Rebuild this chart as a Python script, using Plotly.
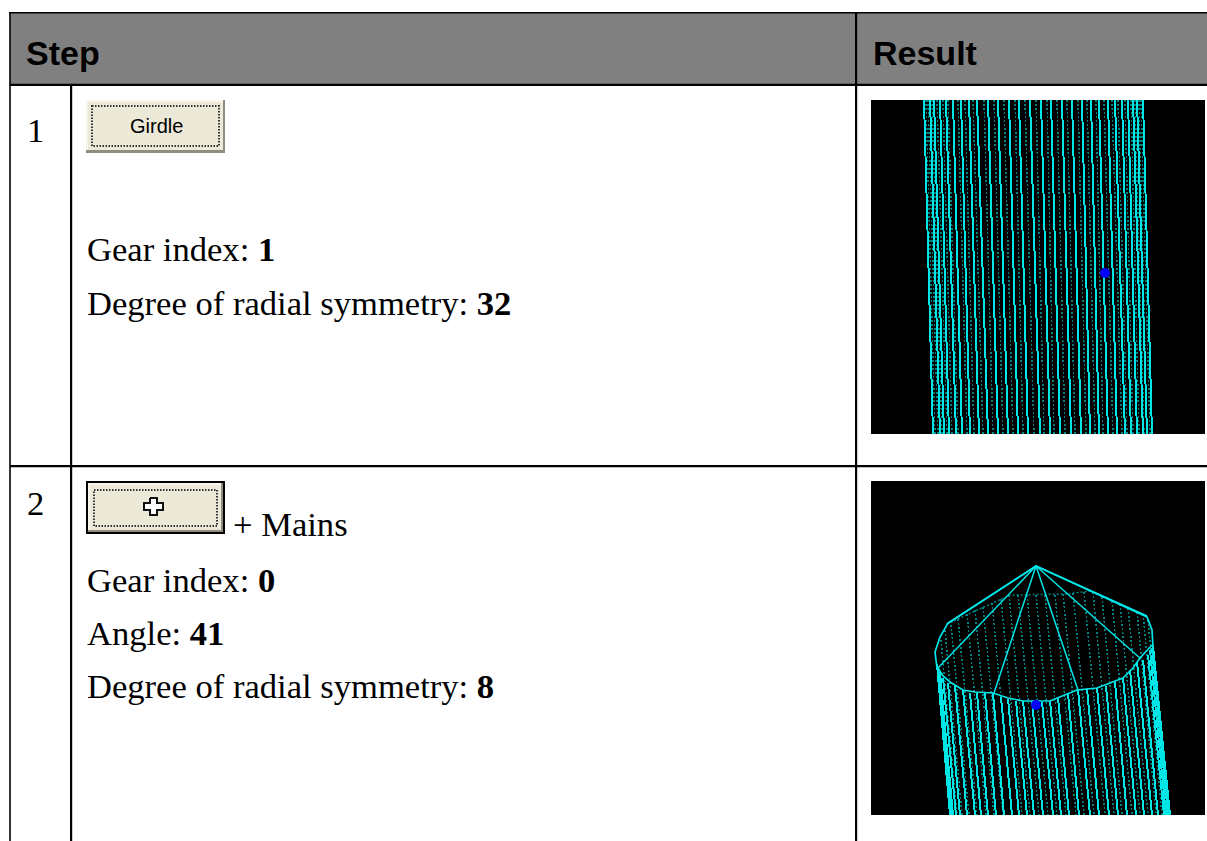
import plotly.graph_objects as go

# ---- text
header_labels = ["Step", "Result"]
step_numbers = ["1", "2"]
step1_lines = ["Gear index: <b>1</b>", "Degree of radial symmetry: <b>32</b>"]
step2_lines = ["+ Mains", "Gear index: <b>0</b>", "Angle: <b>41</b>", "Degree of radial symmetry: <b>8</b>"]
button_label = "Girdle"

# ---- wireframe 1 (read at the top and bottom of the black picture)
w1_y = [100, 434]
w1_bright_top = [924, 930, 934, 940, 946, 953, 961, 969, 977, 988, 998, 1009, 1019, 1030, 1041, 1051, 1062,
                 1072, 1082, 1091, 1099, 1108, 1115, 1122, 1128, 1133, 1137, 1143]
w1_bright_bot = [933, 940, 944, 949, 956, 962, 970, 979, 988, 998, 1008, 1018, 1028, 1040, 1050, 1060, 1071,
                 1081, 1090, 1099, 1108, 1117, 1125, 1131, 1137, 1143, 1147, 1152]
w1_dot_top = [926, 928, 932, 937, 943, 948, 958, 965, 973, 984, 994, 1004, 1015, 1025, 1036, 1047, 1057, 1067,
              1078, 1087, 1096, 1104, 1112, 1118, 1125, 1131, 1135, 1139, 1141]
w1_dot_bot = [935, 938, 942, 947, 952, 958, 967, 974, 983, 993, 1003, 1013, 1023, 1034, 1044, 1054, 1065, 1075,
              1086, 1095, 1103, 1113, 1122, 1127, 1133, 1139, 1144, 1147, 1150]
w1_dot_marker = ([1105], [273])

# ---- wireframe 2
w2_bottom = 815
w2_bright_x0 = [943, 948, 955, 963, 970, 977, 985, 993, 1001, 1008, 1016, 1023, 1032, 1042, 1050, 1058, 1068, 1078,
                1087, 1097, 1106, 1115, 1123, 1130, 1137, 1143, 1148]
w2_bright_y0 = [678, 683, 686, 690, 693, 693, 693, 693, 697, 699, 701, 701, 701, 702, 701, 698, 693, 690, 689, 688,
                686, 682, 678, 670, 662, 660, 655]
w2_bright_x1 = [956, 960, 967, 975, 981, 988, 996, 1004, 1012, 1019, 1027, 1034, 1043, 1053, 1061, 1069, 1079, 1090,
                1099, 1109, 1118, 1127, 1136, 1144, 1152, 1158, 1164]
w2_edge_x0 = [937, 938, 940, 1150, 1152, 1153]
w2_edge_y0 = [664, 668, 672, 650, 648, 646]
w2_edge_x1 = [950, 951, 953, 1166, 1168, 1170]
w2_dot_x0 = [958, 967, 975, 983, 992, 1001, 1009, 1018, 1027, 1036, 1045, 1055, 1063, 1073, 1084, 1093, 1102, 1112,
             1120, 1128, 1137, 1143, 1148]
w2_dot_y0 = [619, 614, 610, 607, 603, 599, 595, 595, 595, 595, 595, 595, 594, 593, 592, 592, 597, 601, 604, 608,
             612, 614, 620]
w2_dot_x1 = [977, 986, 994, 1003, 1012, 1022, 1030, 1039, 1048, 1057, 1066, 1076, 1084, 1094, 1105, 1114, 1122, 1132,
             1140, 1148, 1156, 1162, 1166]
w2_extra_dot_x0 = [941, 945, 951]
w2_extra_dot_y0 = [640, 630, 625]
w2_extra_dot_x1 = [957, 962, 969]
w2_curve_x = [938, 943, 950, 963, 975, 993, 1008, 1023, 1050, 1063, 1077, 1097, 1108, 1123, 1133, 1140, 1152]
w2_curve_y = [668, 676, 682, 690, 692, 693, 698, 701, 701, 696, 690, 688, 684, 678, 668, 658, 645]
w2_outline_x = [937, 935, 940, 948, 1036, 1147, 1152, 1153, 1153]
w2_outline_y = [668, 652, 637, 623, 566, 617, 630, 640, 647]
w2_back_x = [947, 1010, 1067, 1090, 1147]
w2_back_y = [624, 595, 594, 591, 616]
w2_apex = (1036, 566)
w2_spoke_x = [938, 994, 1078, 1141, 947, 1147]
w2_spoke_y = [668, 693, 690, 659, 624, 616]
w2_dot_marker = ([1036], [705])

# ---- small plus glyph on the second button
plus_x = [150, 157, 157, 163, 163, 157, 157, 150, 150, 144, 144, 150, 150]
plus_y = [498, 498, 503, 503, 510, 510, 515, 515, 510, 510, 503, 503, 498]


def segments(x0, y0, x1, y1):
    xs, ys = [], []
    for a, b, c, d in zip(x0, y0, x1, y1):
        xs += [a, c, None]
        ys += [b, d, None]
    return xs, ys


BRIGHT = "#00e6e6"
DIM = "#008080"
fig = go.Figure()


def lines(x, y, color, width=1.5, dash="solid"):
    fig.add_trace(go.Scatter(x=x, y=y, mode="lines", hoverinfo="skip",
                             line=dict(color=color, width=width, dash=dash)))


# wireframe rasters (the first four traces are drawn aliased, as in the source bitmap)
lines(*segments(w1_dot_top, [w1_y[0]] * len(w1_dot_top), w1_dot_bot, [w1_y[1]] * len(w1_dot_bot)), DIM, 1.5, "2px,2px")
lines(*segments(w1_bright_top, [w1_y[0]] * len(w1_bright_top), w1_bright_bot, [w1_y[1]] * len(w1_bright_bot)), BRIGHT, 2)
lines(*segments(w2_dot_x0 + w2_extra_dot_x0, w2_dot_y0 + w2_extra_dot_y0, w2_dot_x1 + w2_extra_dot_x1,
                [w2_bottom] * (len(w2_dot_x1) + len(w2_extra_dot_x1))), DIM, 1.5, "2px,2px")
lines(*segments(w2_bright_x0 + w2_edge_x0, w2_bright_y0 + w2_edge_y0, w2_bright_x1 + w2_edge_x1,
                [w2_bottom] * (len(w2_bright_x1) + len(w2_edge_x1))), BRIGHT, 2)

lines(w2_back_x, w2_back_y, DIM, 1.5, "2px,2px")
lines(w2_outline_x, w2_outline_y, BRIGHT, 1.7)
lines(w2_curve_x, w2_curve_y, BRIGHT, 1.7)
lines(*segments([w2_apex[0]] * len(w2_spoke_x), [w2_apex[1]] * len(w2_spoke_y), w2_spoke_x, w2_spoke_y), BRIGHT, 1.5)

for mx, my in (w1_dot_marker, w2_dot_marker):
    fig.add_trace(go.Scatter(x=mx, y=my, mode="markers", hoverinfo="skip",
                             marker=dict(color="#0000ff", size=10, line=dict(width=0))))
fig.add_trace(go.Scatter(x=plus_x, y=plus_y, mode="lines", fill="toself", fillcolor="#ffffff", hoverinfo="skip",
                         line=dict(color="#111111", width=2)))


def rect(x0, y0, x1, y1, fill, line=None, width=0, dash="solid", layer="below"):
    fig.add_shape(type="rect", x0=x0, y0=y0, x1=x1, y1=y1, fillcolor=fill, layer=layer,
                  line=dict(color=line or fill, width=width, dash=dash))


# table
rect(10, 13, 1207, 85, "#808080")
rect(9, 12, 1207, 13.4, "#000000")
rect(9.2, 12, 10.8, 841, "#000000")
rect(10, 83.7, 1207, 86, "#000000")
rect(10, 465, 1207, 467.2, "#000000")
rect(70, 85, 72.2, 841, "#000000")
rect(855, 12, 857.2, 841, "#000000")
# pictures
rect(871, 100, 1205, 434, "#000000")
rect(871, 481, 1205, 815, "#000000")
# button 1
rect(86, 100, 225, 153, "#8f8d80")
rect(86, 100, 223, 150, "#f7f5ee")
rect(88, 102, 223, 150, "#ece9d8")
rect(92, 106, 219, 146, "rgba(0,0,0,0)", "#333333", 2, "1.5px,1.5px")
# button 2
rect(86, 481, 225, 534, "#000000")
rect(88, 483, 223, 532, "#8f8d80")
rect(88, 483, 221, 530, "#f7f5ee")
rect(90, 485, 221, 530, "#ece9d8")
rect(94, 490, 217, 526, "rgba(0,0,0,0)", "#333333", 2, "1.5px,1.5px")

SERIF = "Liberation Serif"
SANS = "Liberation Sans"


def text(x, y, s, family=SERIF, size=34.6, anchor="left"):
    fig.add_annotation(x=x, y=y, text=s, showarrow=False, xanchor=anchor, yanchor="middle", align="left",
                       xshift=0, yshift=0, borderpad=0, borderwidth=0,
                       font=dict(family=family, size=size, color="#000000"))


text(26, 53, "<b>%s</b>" % header_labels[0], SANS, 34)
text(873, 53, "<b>%s</b>" % header_labels[1], SANS, 34)
text(27, 130, step_numbers[0])
text(27, 503, step_numbers[1])
text(87, 249, step1_lines[0])
text(87, 303, step1_lines[1])
text(233, 524, step2_lines[0])
text(87, 580, step2_lines[1])
text(87, 633, step2_lines[2])
text(87, 686, step2_lines[3])
text(156.5, 126, button_label, SANS, 20, "center")

fig.update_layout(
    width=1207, height=841, margin=dict(l=0, r=0, t=0, b=0), showlegend=False,
    paper_bgcolor="#ffffff", plot_bgcolor="#ffffff",
    xaxis=dict(range=[0, 1207], visible=False, fixedrange=True),
    yaxis=dict(range=[841, 0], visible=False, fixedrange=True),
)

post = """
document.body.style.margin='0';
document.body.style.overflow='hidden';
document.querySelectorAll('.scatterlayer .trace').forEach(function(t,i){
  if(i<4){t.querySelectorAll('path').forEach(function(p){p.style.shapeRendering='crispEdges';});}
});
"""
fig.write_html("out.html", post_script=post, config={"displayModeBar": False})
